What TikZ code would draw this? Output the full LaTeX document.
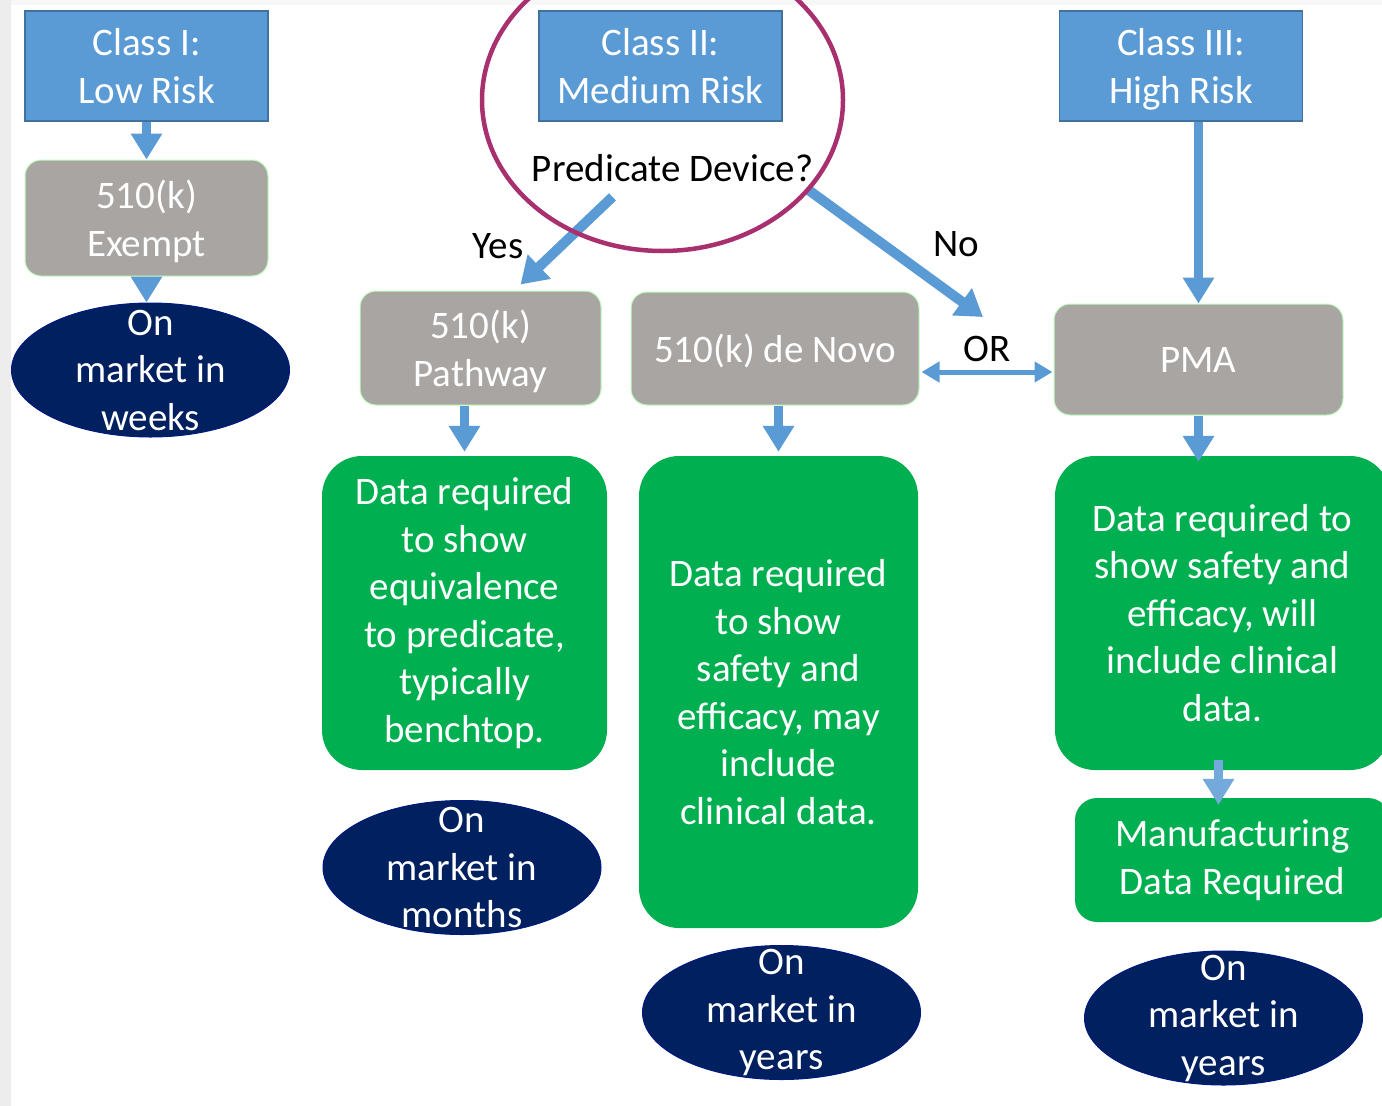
\documentclass[tikz,border=0pt]{standalone}
\usepackage{fontspec}
\setmainfont{Carlito}
\usepackage{xcolor}
\usetikzlibrary{shapes.geometric, arrows.meta, positioning, calc}
\definecolor{riskblue}{RGB}{91,155,213}
\definecolor{riskedge}{RGB}{65,113,156}
\definecolor{pathgray}{RGB}{168,165,163}
\definecolor{datagreen}{RGB}{0,176,80}
\definecolor{marketnavy}{RGB}{0,32,96}
\definecolor{ringpink}{RGB}{168,48,110}
\tikzset{
  base/.style={font=\fontsize{39}{47.5}\selectfont, align=center, inner sep=0pt},
  classbox/.style={base, rectangle, fill=riskblue, draw=riskedge,
                   line width=1.5pt, text=white, text depth=0pt,
                   minimum width=243pt, minimum height=110pt},
  pathbox/.style={base, rectangle, rounded corners=16pt, fill=pathgray,
                  draw=green!25!white, line width=1pt, text=white,
                  text depth=0pt, minimum height=113pt},
  databox/.style={base, rectangle, rounded corners=40pt, fill=datagreen,
                  text=white},
  market/.style={ellipse, fill=marketnavy, draw=marketnavy!80!blue,
                 line width=1pt, minimum width=278pt, minimum height=134pt,
                 label={[base, text=white]center:#1}},
  lbl/.style={base, text=black},
  flow/.style={draw=riskblue, line width=9pt,
               -{Triangle[width=30pt,length=26pt]}},
  slant/.style={flow, line width=10pt,
                -{Triangle[width=32pt,length=26pt]}},
  both/.style={draw=riskblue, line width=5pt,
               {Triangle[width=20pt,length=18pt]}-{Triangle[width=20pt,length=18pt]}},
  ring/.style={ellipse, draw=ringpink, line width=4.5pt,
               minimum width=361pt, minimum height=302pt},
}

\begin{document}
\begin{tikzpicture}[x=1pt, y=-1pt]
  \useasboundingbox (0,0) rectangle (1382,1106);
  \fill[white] (0,0) rectangle (1382,1106);
  \fill[gray!14] (0,0) rectangle (11,1106);
  \fill[gray!6] (11,0) rectangle (1382,5);

  % risk classes
  \node[classbox] (c1) at (146.5,66) {Class I:\\Low Risk};
  \node[classbox] (c2) at (660.5,66) {Class II:\\Medium Risk};
  \node[classbox] (c3) at (1181,66) {Class III:\\High Risk};
  \node[lbl] (pd) at (672.5,168) {Predicate Device?};

  % pathways
  \node[pathbox, minimum width=243pt, minimum height=116pt] (ex)
    at (146.5,218) {510(k)\\Exempt};
  \node[pathbox, minimum width=241pt, minimum height=114pt] (pw)
    at (480.5,348) {510(k)\\Pathway};
  \node[pathbox, minimum width=288pt] (dn)
    at (775,348.5) {510(k) de Novo};
  \node[pathbox, minimum width=289pt, minimum height=111pt] (pm)
    at (1198.5,359.5) {PMA};

  % data requirements
  \node[databox, minimum width=285pt, minimum height=314pt] (g1)
    at (464.5,613)
    {Data required\\to show\\equivalence\\to predicate,\\typically\\benchtop.};
  \node[databox, minimum width=279pt, minimum height=472pt] (g2)
    at (778.5,692)
    {Data required\\to show\\safety and\\efficacy, may\\include\\clinical data.};
  \node[databox, minimum width=335pt, minimum height=314pt] (g3)
    at (1222.5,613)
    {Data required to\\show safety and\\efficacy, will\\include clinical\\data.};
  \node[databox, rounded corners=22pt, minimum width=315pt,
        minimum height=124pt] (mf)
    at (1232.5,860) {Manufacturing\\Data Required};

  % time to market
  \node[market={On\\market in\\weeks}] (m1) at (150.5,370) {};
  \node[market={On\\market in\\months}] (m2) at (462,867.5) {};
  \node[market={On\\market in\\years}] (m3) at (781.5,1012.5) {};
  \node[market={On\\market in\\years}] (m4) at (1223.5,1018) {};

  \coordinate (notip) at (983,317);

  \draw[flow] (c1) -- (ex);
  \draw[flow] (ex.south) -- (ex.south |- m1.north);
  \draw[flow] (c3.south -| pm.north) -- (pm.north);
  \draw[flow, shorten >=4pt] (pw.south -| g1.north) -- (g1.north);
  \draw[flow, shorten >=4pt] (dn.south -| g2.north) -- (g2.north);
  \draw[flow] (pm.south) -- ($(pm.south |- g3.north)+(0,6)$);
  \draw[flow, draw=riskblue!85] ($(g3.south)+(-4,-10)$)
    -- ($(g3.south |- mf.north)+(-4,7)$);

  \draw[slant] ($(pd.south)+(-60,15)$) -- ($(pw.north)+(40,-6)$)
    node[lbl, pos=0.557, left=33pt] {Yes};
  \draw[slant] ($(pd.south east)+(-5,8)$) -- (notip)
    node[lbl, pos=0.425, right=46pt] {No};
  \draw[both] ($(dn.east)+(2,23.5)$) -- ($(pm.west)+(-1,12.5)$)
    node[lbl, midway, above=8pt] {OR};

  \node[ring] (hl) at (662.5,100) {};
\end{tikzpicture}
\end{document}
